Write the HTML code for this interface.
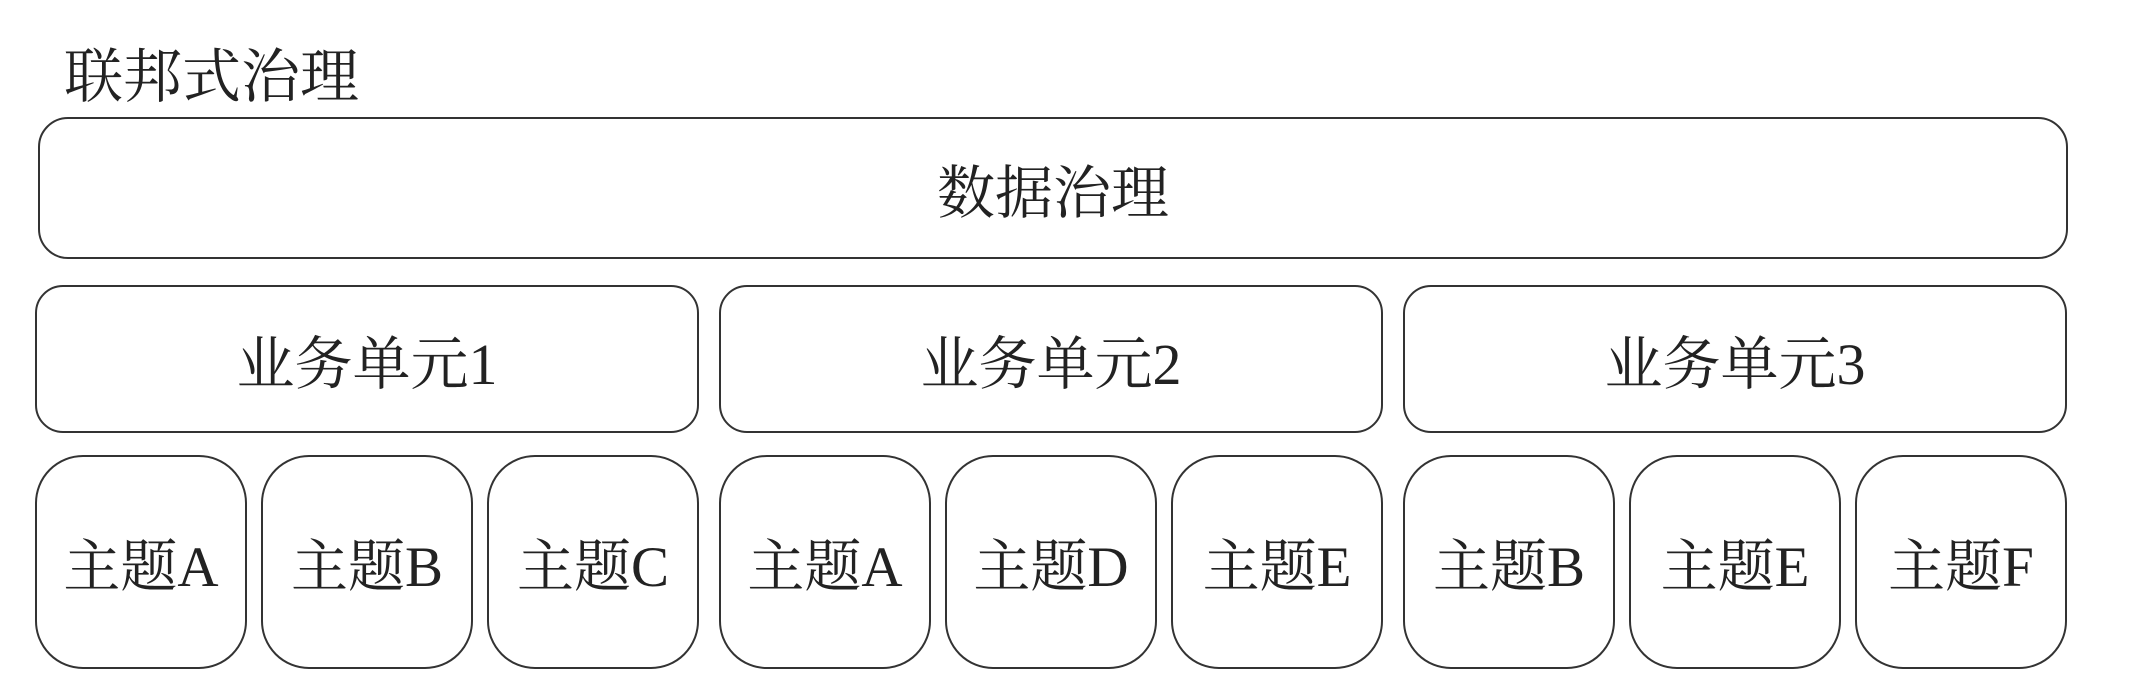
<!DOCTYPE html>
<html><head><meta charset="utf-8"><style>
html,body{margin:0;padding:0;background:#fff;}
body{width:2130px;height:690px;position:relative;overflow:hidden;font-family:"Liberation Serif","Noto Serif CJK SC",serif;color:#222;}
.b{position:absolute;box-sizing:border-box;border:2.5px solid #333;display:flex;align-items:center;justify-content:center;background:#fff;}
.t{position:absolute;left:64px;top:44px;font-size:59px;line-height:66px;}
.top{left:38px;top:117px;width:2030px;height:142px;border-radius:30px;font-size:58px;}
.bu{top:285px;height:148px;width:664px;border-radius:28px;font-size:58px;}
.tp{top:455px;height:214px;width:212px;border-radius:48px;font-size:57px;}
</style></head><body>
<div class="t">联邦式治理</div>
<div class="b top">数据治理</div>
<div class="b bu" style="left:35px">业务单元1</div>
<div class="b bu" style="left:719px">业务单元2</div>
<div class="b bu" style="left:1403px">业务单元3</div>
<div class="b tp" style="left:35px">主题A</div>
<div class="b tp" style="left:261px">主题B</div>
<div class="b tp" style="left:487px">主题C</div>
<div class="b tp" style="left:719px">主题A</div>
<div class="b tp" style="left:945px">主题D</div>
<div class="b tp" style="left:1171px">主题E</div>
<div class="b tp" style="left:1403px">主题B</div>
<div class="b tp" style="left:1629px">主题E</div>
<div class="b tp" style="left:1855px">主题F</div>
</body></html>
